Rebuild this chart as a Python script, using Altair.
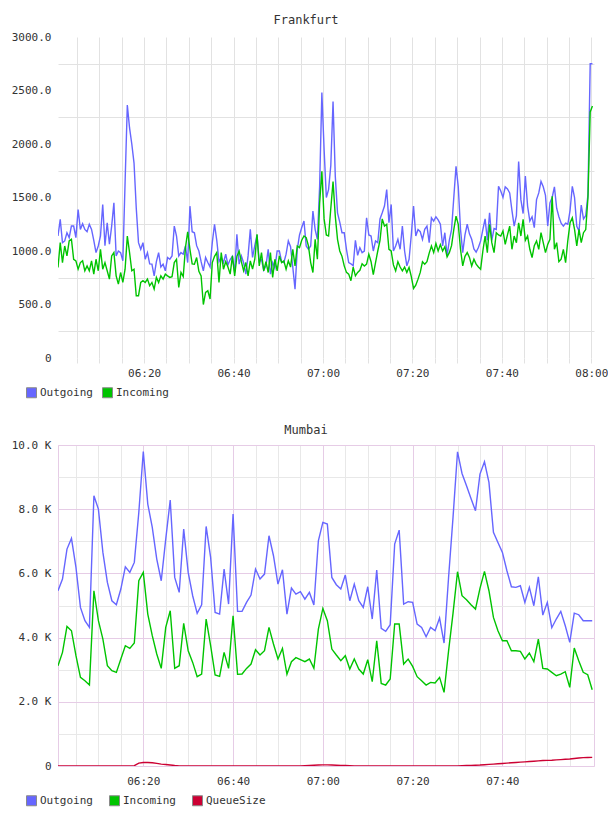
import altair as alt
import pandas as pd

# ---------------- Frankfurt: 30-second samples starting 06:00:45 ----------------
fra_outgoing = [
    1140, 1295, 1078, 1094, 1170, 1125, 1233, 1233, 1125, 1388,
    1202, 1255, 1202, 1180, 1250, 1202, 1100, 985, 1047, 1140,
    1435, 1050, 1264, 1063, 1233, 1450, 954, 1000, 985, 908,
    1640, 2365, 2150, 2000, 1822, 1400, 1078, 1016, 1078, 923,
    985, 880, 877, 768, 900, 985, 850, 877, 815, 939,
    923, 954, 1233, 1140, 954, 985, 970, 1047, 892, 1419,
    1180, 1170, 1050, 1000, 900, 815, 939, 892, 850, 1078,
    1250, 1100, 900, 939, 892, 970, 870, 920, 950, 800,
    1156, 877, 954, 890, 784, 954, 1202, 940, 1050, 1150,
    900, 920, 820, 861, 1016, 784, 892, 840, 1000, 1000,
    900, 892, 970, 1094, 1040, 850, 644, 1016, 1150, 1220,
    1280, 1047, 1016, 1047, 1373, 1200, 1110, 1605, 2480, 1950,
    1500, 1574, 1800, 2396, 1700, 1357, 1270, 1171, 1171, 1016,
    892, 880, 861, 1100, 960, 1031, 985, 1000, 1311, 1150,
    1140, 1000, 1094, 1078, 1300, 1357, 1420, 1574, 1264, 1435,
    1000, 1047, 1109, 1016, 1233, 1000, 861, 923, 1150, 1419,
    1140, 1200, 1180, 1109, 1202, 1233, 1078, 1310, 1280, 1320,
    1290, 1250, 1047, 1171, 954, 1100, 1200, 1500, 1791, 1600,
    1202, 985, 1150, 1250, 1160, 1109, 1020, 990, 1032, 1094,
    1200, 1300, 1100, 1357, 1100, 1210, 1202, 1605, 1560, 1500,
    1600, 1580, 1543, 1380, 1233, 1330, 1837, 1480, 1350, 1700,
    1420, 1280, 1320, 1218, 1480, 1543, 1650, 1600, 1520, 1233,
    1450, 1500, 1600, 1400, 1320, 1260, 1233, 1260, 1250, 1380,
    1605, 1500, 1230, 1187, 1430, 1300, 1330, 1527, 2750, 2750,
]
fra_incoming = [
    846, 1078, 892, 1047, 954, 1094, 1110, 923, 908, 830,
    892, 908, 815, 861, 815, 908, 784, 923, 815, 1016,
    830, 892, 815, 737, 954, 985, 768, 690, 799, 706,
    830, 1140, 985, 815, 830, 582, 582, 706, 722, 706,
    737, 675, 706, 644, 753, 706, 768, 737, 784, 768,
    753, 760, 892, 923, 660, 799, 760, 1031, 1180, 1016,
    880, 877, 939, 810, 768, 500, 613, 629, 551, 892,
    950, 985, 706, 985, 830, 900, 850, 784, 954, 768,
    950, 1000, 900, 815, 892, 768, 908, 830, 923, 1156,
    861, 985, 815, 900, 799, 985, 753, 923, 815, 954,
    892, 908, 830, 908, 850, 1016, 861, 1047, 1031, 1100,
    1140, 1125, 1047, 892, 799, 1110, 923, 1450, 1745, 1300,
    1150, 1140, 1400, 1650, 1326, 1109, 1000, 950, 861, 800,
    784, 722, 850, 768, 800, 820, 880, 860, 877, 970,
    900, 780, 892, 1000, 1100, 1300, 1233, 1250, 1016, 1000,
    870, 815, 900, 850, 815, 850, 800, 846, 760, 650,
    680, 737, 800, 900, 877, 900, 980, 1047, 985, 1070,
    1000, 1060, 1000, 1040, 945, 985, 1050, 1200, 1326, 1250,
    1016, 861, 950, 985, 940, 860, 923, 877, 850, 830,
    1000, 1140, 985, 1250, 1078, 985, 1171, 1150, 1140, 1187,
    1063, 1150, 1233, 1016, 1140, 1078, 1264, 1140, 1295, 1100,
    1140, 1016, 939, 1050, 1094, 1016, 1171, 1078, 985, 1060,
    1109, 1512, 1016, 1078, 900, 923, 1016, 892, 1100, 1264,
    1310, 1202, 1047, 1202, 1078, 1171, 1200, 1500, 2300, 2354,
]

# ---------------- Mumbai: 1-minute samples starting 06:01 ----------------
mum_outgoing = [
    5460, 5823, 6757, 7090, 6187, 4941, 4526, 4318, 8418, 8003,
    6654, 5719, 5148, 5024, 5512, 6207, 6031, 6342, 7899, 9799,
    8159, 7432, 6446, 5771, 7069, 8283, 5875, 5408, 7380, 6031,
    5304, 4754, 5024, 7463, 6498, 4785, 4733, 6135, 5045, 7847,
    4816, 4816, 5097, 5325, 6135, 5823, 5979, 7173, 6550, 5667,
    6114, 4733, 5543, 5356, 5429, 5200, 5408, 5014, 7017, 7588,
    7536, 5875, 5647, 5512, 5948, 5148, 5667, 5148, 4941, 5584,
    4578, 6103, 4287, 4194, 4401, 6913, 7349, 5045, 5117, 5097,
    4422, 4318, 4027, 4318, 4214, 4609, 3830, 5865, 7754, 9788,
    9114, 8730, 8335, 7951, 9093, 9477, 8833, 7277, 6965, 6654,
    6083, 5584, 5564, 5616, 5097, 5564, 4993, 5896, 4702, 5097,
    4308, 4578, 4816, 4370, 3851, 4764, 4713, 4526, 4526, 4526,
]
mum_incoming = [
    3124, 3540, 4349, 4214, 3436, 2761, 2657, 2522, 5460, 4526,
    3955, 3124, 2969, 2917, 3332, 3747, 3664, 3830, 5771, 6031,
    4733, 4059, 3488, 3041, 4318, 4837, 3041, 3124, 4443, 3591,
    3228, 2782, 2865, 4578, 3747, 2834, 2792, 3540, 3041, 4681,
    2855, 2865, 3041, 3176, 3623, 3457, 3591, 4318, 3799, 3332,
    3664, 2855, 3249, 3374, 3311, 3249, 3332, 3041, 4266, 4910,
    4526, 3643, 3457, 3280, 3436, 3021, 3332, 3021, 2865, 3311,
    2626, 3903, 2574, 2522, 2709, 4422, 4422, 3176, 3332, 3104,
    2782, 2657, 2522, 2605, 2585, 2761, 2294, 3581, 4764, 6052,
    5304, 5180, 5024, 4889, 5533, 6062, 5460, 4629, 4214, 3903,
    3903, 3591, 3591, 3571, 3332, 3519, 3249, 3955, 3041, 3021,
    2917, 2813, 2865, 2938, 2450, 3675, 3280, 2917, 2844, 2377,
]
mum_queue = [
    0, 0, 0, 0, 0, 0, 0, 0, 0, 0,
    0, 0, 0, 0, 0, 0, 0, 10, 90, 110,
    110, 100, 80, 60, 45, 30, 15, 5, 0, 0,
    0, 0, 0, 0, 0, 0, 0, 0, 0, 0,
    0, 0, 0, 0, 0, 0, 0, 0, 0, 0,
    0, 0, 0, 0, 0, 10, 20, 25, 30, 35,
    35, 30, 25, 20, 15, 10, 5, 0, 0, 0,
    0, 0, 0, 0, 0, 0, 0, 0, 0, 0,
    0, 0, 0, 0, 0, 0, 0, 0, 0, 5,
    10, 15, 20, 25, 30, 40, 50, 60, 70, 80,
    90, 100, 110, 120, 130, 140, 150, 160, 170, 175,
    180, 190, 200, 210, 220, 235, 250, 260, 265, 268,
]

SERIES = ["Outgoing", "Incoming", "QueueSize"]
COLORS = ["#6666ff", "#00c400", "#cc0033"]

FONT = "DejaVu Sans Mono"
TXT = "#333333"
GRID = "#e2e2e2"
GRID_MAJOR = "#e6cce6"
GRID_MINOR = "#e8e8e8"

W, H = 536, 321

# minutes after 06:00 -> "HH:MM", shown only on 20-minute marks
TIME_LABEL = ("datum.value % 20 === 0 ? format(6 + floor(datum.value / 60), '02d') + ':' + "
              "format(datum.value % 60, '02d') : ''")


def long_table(times, columns):
    rows = []
    for name, vals in columns:
        for t, v in zip(times, vals):
            rows.append({"t": t, "v": v, "series": name})
    return pd.DataFrame(rows)


fra_t = [0.75 + 0.5 * k for k in range(len(fra_outgoing))]
mum_t = [1.0 + k for k in range(len(mum_outgoing))]

fra_df = long_table(fra_t, [("Outgoing", fra_outgoing), ("Incoming", fra_incoming)])
mum_df = long_table(mum_t, [("Outgoing", mum_outgoing), ("Incoming", mum_incoming),
                            ("QueueSize", mum_queue)])


def legend(n, y):
    return alt.Legend(
        orient="none", legendX=-32, legendY=y, direction="horizontal", title=None,
        columns=n, gridAlign="all", columnPadding=7,
        symbolType="square", symbolSize=100, symbolOpacity=1,
        symbolStrokeColor="#8a8a8a", symbolStrokeWidth=1,
        labelFont=FONT, labelFontSize=11, labelColor=TXT, labelOffset=3,
    )


def panel(df, names, x_dom, x_axis, y_dom, y_axis, title, title_offset, leg, view):
    base = alt.Chart(df).encode(
        x=alt.X("t:Q", scale=alt.Scale(domain=x_dom, nice=False, zero=False), axis=x_axis),
        y=alt.Y("v:Q", scale=alt.Scale(domain=y_dom, nice=False), axis=y_axis),
    )
    layers = []
    for name in names:
        col = COLORS[SERIES.index(name)]
        layers.append(
            base.transform_filter(alt.datum.series == name)
            .mark_line(stroke=col, strokeWidth=1.4, clip=True)
        )
    # invisible squares carry the colour legend
    key = base.mark_square(opacity=0, size=10).encode(
        color=alt.Color(
            "series:N",
            scale=alt.Scale(domain=names, range=[COLORS[SERIES.index(n)] for n in names]),
            legend=leg,
        )
    )
    return alt.layer(*layers, key).properties(
        width=W, height=H, view=view,
        title=alt.TitleParams(text=title, font=FONT, fontSize=12, fontWeight="normal",
                              color=TXT, anchor="middle", frame="group", dx=-20,
                              offset=title_offset),
    )


# Frankfurt axes: labels every 500, grid between them; x grid every 5 min
fra_x_axis = alt.Axis(
    values=list(range(5, 121, 5)), labelExpr=TIME_LABEL, labelFlush=False, labelOverlap=False,
    domain=False, ticks=True, tickSize=5, tickColor=GRID, grid=True, gridColor=GRID,
    labelFont=FONT, labelFontSize=11, labelColor=TXT, labelPadding=4, title=None,
)
fra_y_axis = alt.Axis(
    values=list(range(0, 3001, 250)),
    labelExpr="datum.value % 500 === 0 ? (datum.value === 0 ? '0' : format(datum.value, '.1f')) : ''",
    labelOverlap=False, domain=False, ticks=False, grid=True,
    gridColor={"condition": {"test": "datum.value % 500 === 250", "value": GRID}, "value": "transparent"},
    labelFont=FONT, labelFontSize=11, labelColor=TXT, labelPadding=7, title=None,
)

# Mumbai axes: major purple grid on labelled values, light grey minor grid
mum_x_axis = alt.Axis(
    values=list(range(5, 116, 5)), labelExpr=TIME_LABEL, labelFlush=False, labelOverlap=False,
    domain=False, ticks=False, grid=True,
    gridColor={"condition": {"test": "datum.value % 20 === 0", "value": GRID_MAJOR}, "value": GRID_MINOR},
    labelFont=FONT, labelFontSize=11, labelColor=TXT, labelPadding=9, title=None,
)
mum_y_axis = alt.Axis(
    values=list(range(0, 10001, 1000)),
    labelExpr="datum.value % 2000 === 0 ? (datum.value === 0 ? '0' : format(datum.value / 1000, '.1f') + ' K') : ''",
    labelOverlap=False, domain=False, ticks=False, grid=True,
    gridColor={"condition": {"test": "datum.value % 2000 === 0", "value": GRID_MAJOR}, "value": GRID_MINOR},
    labelFont=FONT, labelFontSize=11, labelColor=TXT, labelPadding=7, title=None,
)

frankfurt = panel(fra_df, ["Outgoing", "Incoming"], [0.75, 120.6], fra_x_axis, [0, 3000], fra_y_axis,
                  "Frankfurt", 4, legend(2, 350), alt.ViewBackground(stroke=None, strokeWidth=0))
mumbai = panel(mum_df, ["Outgoing", "Incoming", "QueueSize"], [1.0, 120.4], mum_x_axis, [0, 10000],
               mum_y_axis, "Mumbai", 2, legend(3, 350), alt.ViewBackground(stroke=GRID_MAJOR))

chart = (
    alt.vconcat(frankfurt, mumbai, spacing=23)
    .resolve_scale(color="independent")
    .resolve_legend(color="independent")
    .properties(padding={"left": 10, "top": 14, "right": 0, "bottom": 0}, background="white")
)

chart.save("out.html", embed_options={"renderer": "svg", "actions": False})
